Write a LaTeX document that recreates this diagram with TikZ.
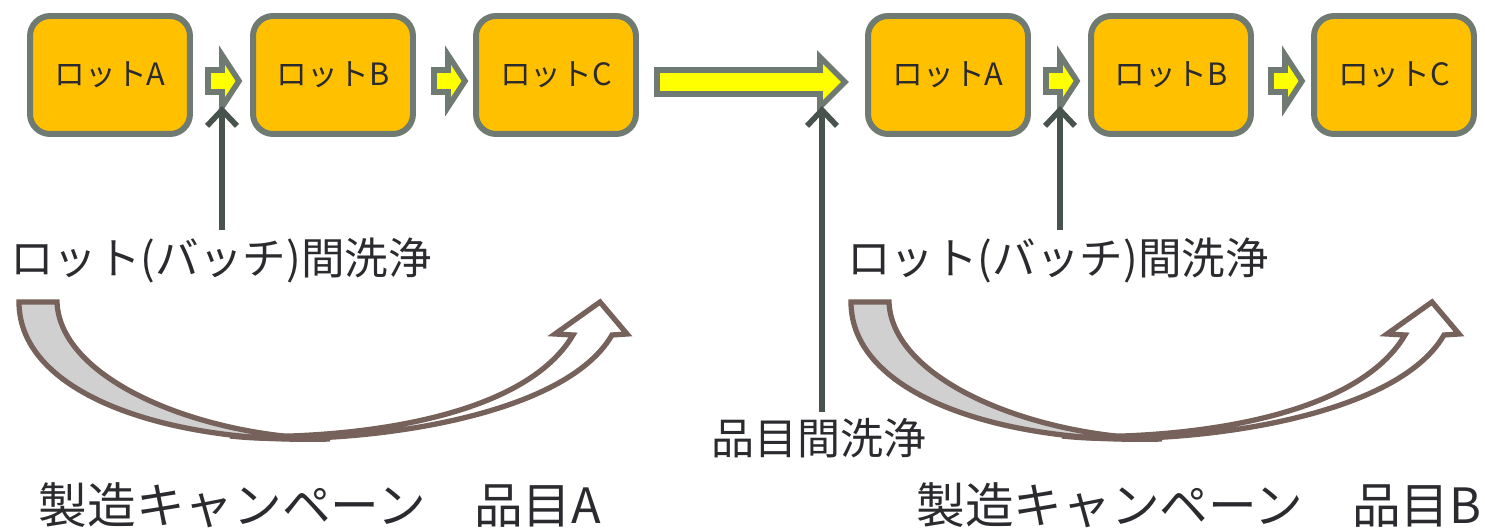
\documentclass[tikz,border=0pt]{standalone}
\usepackage{fontspec}
\setmainfont{Noto Sans CJK JP}
\usetikzlibrary{positioning,arrows.meta,calc}

\definecolor{lotfill}{HTML}{FFC000}
\definecolor{lotline}{HTML}{6F7A72}
\definecolor{flowfill}{HTML}{FFFF00}
\definecolor{washline}{HTML}{48534E}
\definecolor{campline}{HTML}{76625A}
\definecolor{campgray}{HTML}{D0D0D0}
\definecolor{txt}{HTML}{2B2B2F}

\tikzset{
  lot/.style={draw=lotline,fill=lotfill,line width=3.4pt,rounded corners=0.4cm,
    minimum width=3.2cm,minimum height=2.36cm,text=txt,font=\fontsize{17.5}{20}\selectfont},
  flow/.style={draw=lotline,fill=flowfill,line width=3.2pt,line join=miter},
  wash/.style={draw=washline,line width=3.2pt,-{Straight Barb[length=9pt,width=17pt]}},
  camp/.style={draw=campline,line width=3pt,line join=miter},
  lbl/.style={text=txt,inner sep=0pt}
}

\begin{document}
\begin{tikzpicture}[x=0.02cm,y=-0.02cm]
  \useasboundingbox (0,0) rectangle (1485,530);
  % lots of product A
  \node[lot] (a1) at (110,75) {ロットA};
  \node[lot] (a2) at (333,75) {ロットB};
  \node[lot] (a3) at (556,75) {ロットC};
  % lots of product B
  \node[lot] (b1) at (948,75) {ロットA};
  \node[lot] (b2) at (1171,75) {ロットB};
  \node[lot] (b3) at (1394,75) {ロットC};

  \draw[flow] (208,70) -- (222,70) -- (222,55) -- (239,81) -- (222,107) -- (222,92) -- (208,92) -- cycle;
  \draw[flow] (434,70) -- (448,70) -- (448,55) -- (465,81) -- (448,107) -- (448,92) -- (434,92) -- cycle;
  \draw[flow] (657,70) -- (820,70) -- (820,57) -- (845,82) -- (820,107) -- (820,94) -- (657,94) -- cycle;
  \draw[flow] (1046,70) -- (1060,70) -- (1060,55) -- (1077,81) -- (1060,107) -- (1060,92) -- (1046,92) -- cycle;
  \draw[flow] (1271,70) -- (1285,70) -- (1285,55) -- (1302,81) -- (1285,107) -- (1285,92) -- (1271,92) -- cycle;

  \coordinate (ab) at (222,106);
  \coordinate (ch) at (822,106);
  \coordinate (bb) at (1060,106);

  \node[lbl,font=\fontsize{24.8}{28}\selectfont] (lotwashA) at (221,260) {ロット(バッチ)間洗浄};
  \node[lbl,font=\fontsize{24.8}{28}\selectfont] (lotwashB) at (1058,260) {ロット(バッチ)間洗浄};
  \node[lbl,font=\fontsize{24.5}{28}\selectfont] (itemwash) at (819,438) {品目間洗浄};

  \draw[wash] (222,230) -- (ab);
  \draw[wash] (822,412) -- (ch);
  \draw[wash] (1060,230) -- (bb);

  % campaign arrows
  \draw[camp,fill=white] (230,436) .. controls (330,447) and (560,425) .. (612,335) -- (627,334) -- (600,302) -- (555,334) -- (573,335) .. controls (520,425) and (330,440) .. (230,436) -- cycle;
  \draw[camp,fill=campgray] (19,302) -- (57,302) .. controls (60,380) and (200,437) .. (330,439) .. controls (170,444) and (19,395) .. (19,302) -- cycle;
  \draw[camp,fill=white] (1062,436) .. controls (1162,447) and (1392,425) .. (1444,335) -- (1459,334) -- (1432,302) -- (1387,334) -- (1405,335) .. controls (1352,425) and (1162,440) .. (1062,436) -- cycle;
  \draw[camp,fill=campgray] (851,302) -- (889,302) .. controls (892,380) and (1032,437) .. (1162,439) .. controls (1002,444) and (851,395) .. (851,302) -- cycle;

  \node[lbl,font=\fontsize{27.7}{31}\selectfont] (campA) at (320,505) {製造キャンペーン　品目A};
  \node[lbl,font=\fontsize{27.7}{31}\selectfont] (campB) at (1199,505) {製造キャンペーン　品目B};
\end{tikzpicture}
\end{document}
